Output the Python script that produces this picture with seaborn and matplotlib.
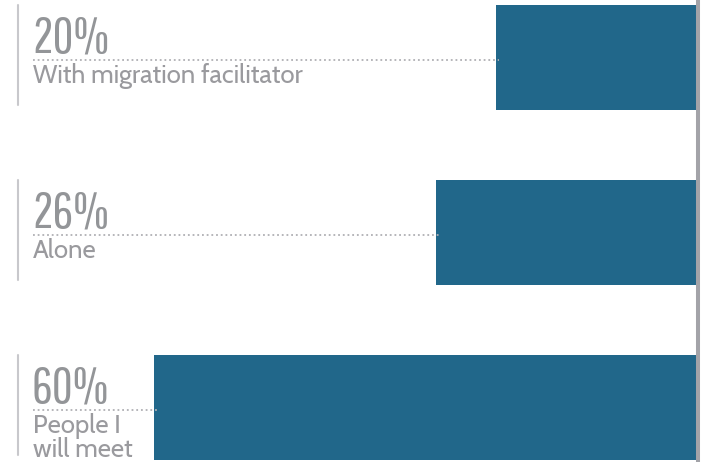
import matplotlib
matplotlib.use("Agg")
import matplotlib.pyplot as plt
import seaborn as sns
import pandas as pd
from matplotlib.lines import Line2D

categories = ["With migration facilitator", "Alone", "People I\nwill meet"]
values = [20, 26, 60]
pct_labels = ["20%", "26%", "60%"]

sns.set_style("white")
num_font = ["Pathway Gothic One", "Cabin Condensed", "DejaVu Sans"]
lab_font = ["Cabin", "Lato", "DejaVu Sans"]

W, H = 704, 462
fig = plt.figure(figsize=(W / 100, H / 100), dpi=100)
ax = fig.add_axes([154 / W, 0, (696 - 154) / W, 1])

df = pd.DataFrame({"cat": categories, "val": values})
sns.barplot(data=df, x="val", y="cat", orient="h", color="#21678a", width=0.6,
            saturation=1, ax=ax, edgecolor="none")
ax.set_xlim(54.2, 0)
ax.set_ylim(2.311, -0.3286)
ax.axis("off")

# right gray rule
fig.add_artist(Line2D([698 / W, 698 / W], [0, 1], color="#a3a3a8", lw=2.9,
                      transform=fig.transFigure))

fig.canvas.draw()
for i, (cat, v, p) in enumerate(zip(categories, values, pct_labels)):
    xl, yc = ax.transData.transform((min(v, 54.2), i))
    top = (H - yc) - 52.5
    fig.add_artist(Line2D([17.5 / W] * 2, [1 - top / H, 1 - (top + 100) / H],
                          color="#c8c8cc", lw=1.5, transform=fig.transFigure))
    ydot = top + 55
    fig.add_artist(Line2D([33 / W, (xl + 3) / W], [1 - ydot / H] * 2, color="#b0b0b4",
                          lw=1.3, ls=(0, (1, 1.6)), transform=fig.transFigure))
    fig.text(32 / W, 1 - (top + 47) / H, p, fontsize=37, color="#939598",
             family=num_font, ha="left", va="baseline")
    fig.text(33 / W, 1 - (top + 58) / H, cat, fontsize=18.5, color="#9a9a9e",
             family=lab_font, ha="left", va="top", linespacing=0.9)

fig.savefig("out.png", dpi=100)
